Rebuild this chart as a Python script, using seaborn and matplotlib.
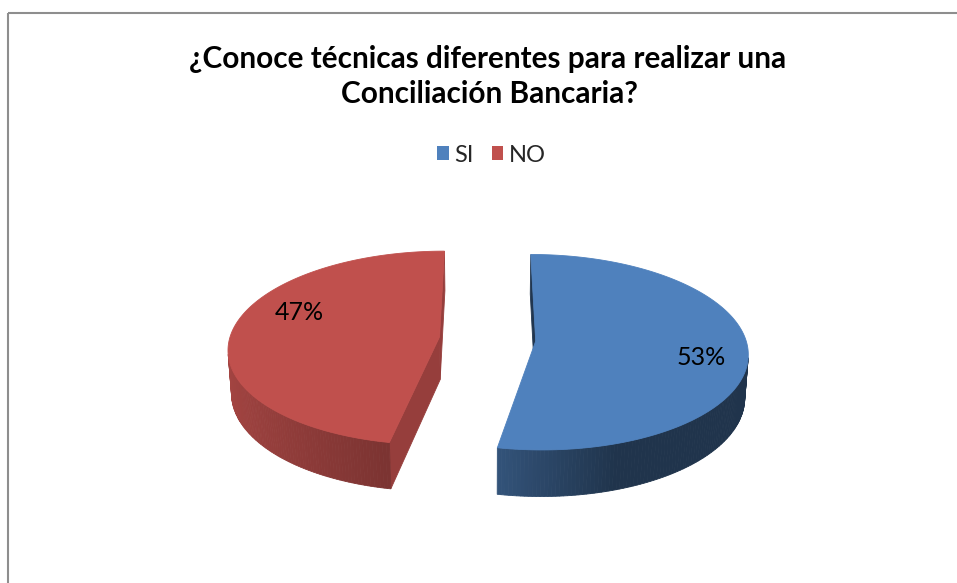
import numpy as np
import matplotlib
matplotlib.use("Agg")
import matplotlib.pyplot as plt
from matplotlib.patches import Polygon, Patch, Rectangle
from matplotlib.colors import to_rgb
import seaborn as sns

# ---------------- data ----------------
categories = ["SI", "NO"]
values = [53, 47]
pct_labels = ["53%", "47%"]
title_lines = ["¿Conoce técnicas diferentes para realizar una", "Conciliación Bancaria?"]
colors = ["#4F81BD", "#C0504D"]

# ---------------- style ----------------
sns.set_theme(style="white")
plt.rcParams['font.family'] = ['Lato', 'DejaVu Sans']

W, H = 957, 583
fig = plt.figure(figsize=(W / 100, H / 100), dpi=100)
ax = fig.add_axes([0, 0, 1, 1])
ax.set_xlim(0, W)
ax.set_ylim(H, 0)
ax.axis('off')

# chart border
ax.add_patch(Rectangle((7.5, 12.5), 1100, 1100, fill=False, edgecolor='#8e8e8e', lw=1.5, zorder=1))

# ---------------- 3D perspective pie ----------------
elev = np.radians(27.2)
D = 7.84          # camera distance (in pie radii)
thick = 0.232     # pie thickness (in pie radii)
explode = 0.23
cx, cy, R_px = 487.5, 339.0, 210.0
K = R_px * D
s, c = np.sin(elev), np.cos(elev)
CAM = np.array([0.0, D * c, D * s])


def proj(P):
    P = np.atleast_2d(P)
    v = P - CAM
    xc = v[:, 0]
    yc = -s * v[:, 1] + c * v[:, 2]
    zc = -c * v[:, 1] - s * v[:, 2]
    return np.column_stack([cx + K * xc / zc, cy - K * yc / zc]), zc


def direc(th):
    t = np.radians(th)
    return np.array([np.sin(t), -np.cos(t)])


def shade(col, f):
    r, g, b = to_rgb(col)
    return (r * f, g * f, b * f)


def wall_factor(th):
    k = 0.5 if th < 190 else 0.23
    return float(np.clip(0.64 + k * np.sin(np.radians(th - 190)), 0.40, 0.9))


radial_factor = [0.42, 0.78]
label_off = [7.0, 16.0]
label_r = [0.80, 0.73]

frac = np.array(values, dtype=float) / np.sum(values)
edges = np.concatenate([[0.0], np.cumsum(frac) * 360.0])

for i in range(len(values)):
    th1, th2 = edges[i], edges[i + 1]
    mid = 0.5 * (th1 + th2)
    off = explode * direc(mid)
    tip_t = np.array([off[0], off[1], 0.0])
    tip_b = np.array([off[0], off[1], -thick])
    faces = []
    # outer wall
    ths = np.linspace(th1, th2, 200)
    for a, b in zip(ths[:-1], ths[1:]):
        pa = off + direc(a)
        pb = off + direc(b)
        m = 0.5 * (a + b)
        n = np.array([*direc(m), 0.0])
        pm = np.array([*(off + direc(m)), -thick / 2])
        if np.dot(n, CAM - pm) <= 0:
            continue
        quad = np.array([[pa[0], pa[1], 0], [pb[0], pb[1], 0],
                         [pb[0], pb[1], -thick], [pa[0], pa[1], -thick]])
        xy, zc = proj(quad)
        faces.append((zc.mean(), xy, shade(colors[i], wall_factor(m))))
    # radial faces
    for th, sign in ((th1, -1), (th2, 1)):
        t = np.radians(th)
        n = sign * np.array([np.cos(t), np.sin(t), 0.0])
        po = off + direc(th)
        quad = np.array([tip_t, [po[0], po[1], 0], [po[0], po[1], -thick], tip_b])
        if np.dot(n, CAM - quad.mean(axis=0)) <= 0:
            continue
        xy, zc = proj(quad)
        faces.append((zc.mean(), xy, shade(colors[i], radial_factor[i])))
    faces.sort(key=lambda f: -f[0])
    for _, xy, col in faces:
        ax.add_patch(Polygon(xy, closed=True, facecolor=col, edgecolor=col, lw=0.6, zorder=2))
    # top face
    arc = np.array([[*(off + direc(a)), 0.0] for a in np.linspace(th1, th2, 300)])
    top = np.vstack([tip_t, arc])
    xy, _ = proj(top)
    ax.add_patch(Polygon(xy, closed=True, facecolor=colors[i], edgecolor=colors[i], lw=0.6, zorder=3))
    # label
    lp = off + label_r[i] * direc(mid + label_off[i])
    lxy, _ = proj(np.array([lp[0], lp[1], 0.0]))
    ax.text(lxy[0, 0] - 3, lxy[0, 1], pct_labels[i], fontsize=18, color='black',
            ha='center', va='center', zorder=4)

# ---------------- title ----------------
renderer = fig.canvas.get_renderer()
t1 = ax.text(487.5, 68, title_lines[0], fontsize=22, fontweight='bold', ha='center', va='baseline', color='black')
bb = t1.get_window_extent(renderer=renderer)
fs = 22 * 595.0 / bb.width
t1.set_fontsize(fs)
ax.text(489, 103, title_lines[1], fontsize=fs, fontweight='bold', ha='center', va='baseline', color='black')

# ---------------- legend ----------------
handles = [Patch(facecolor=colors[k], edgecolor='none', label=categories[k]) for k in range(len(categories))]
fig.legend(handles=handles, loc='center', bbox_to_anchor=(491.5 / W, 1 - 155 / H), ncol=2,
           frameon=False, fontsize=17, handlelength=0.5, handleheight=0.5,
           handletextpad=0.25, columnspacing=0.75, borderpad=0)

fig.savefig("out.png", dpi=100)
